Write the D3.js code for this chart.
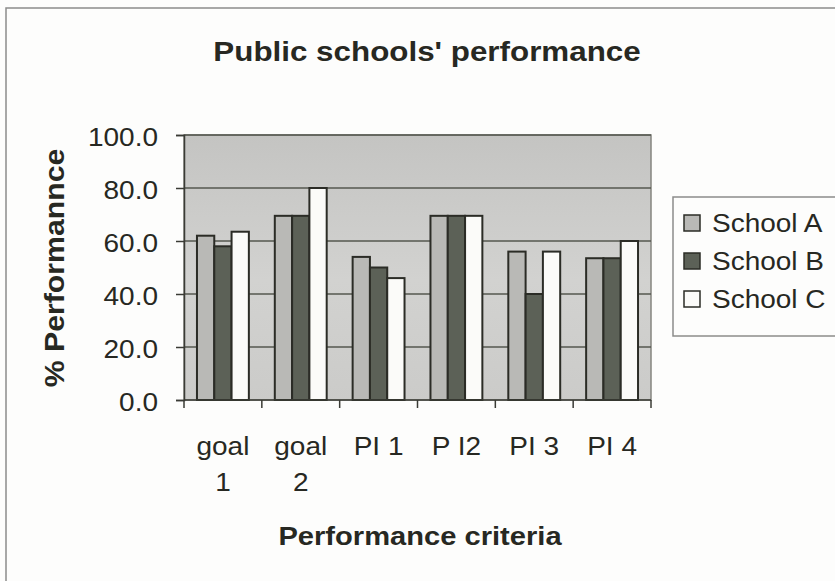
<!DOCTYPE html>
<html>
<head>
<meta charset="utf-8">
<script src="https://cdn.jsdelivr.net/npm/d3@7/dist/d3.min.js"></script>
<style>
  html, body { margin: 0; padding: 0; background: #fdfdfc; }
  svg { display: block; font-family: Arial, "Liberation Sans", Helvetica, sans-serif; }
</style>
</head>
<body>
<svg id="chart" width="835" height="581"></svg>
<script>
// Criteria along the x axis
const categories = ["goal 1", "goal 2", "PI 1", "P I2", "PI 3", "PI 4"];
// Series (one per school)
const seriesNames = ["School A", "School B", "School C"];
const schoolA = [62, 69.5, 54, 69.5, 56, 53.5];
const schoolB = [58, 69.5, 50, 69.5, 40, 53.5];
const schoolC = [63.5, 80, 46, 69.5, 56, 60];
// Value axis ticks
const yTicks = [0, 20, 40, 60, 80, 100];

const seriesValues = [schoolA, schoolB, schoolC];
const seriesFill = ["#b9b9b6", "#5c6157", "#fbfbf9"];
const ink = "#272822";
const stretch = 1.12; // fonts are drawn slightly wide

const svg = d3.select("#chart");

// Chart frame
svg.append("rect")
  .attr("x", 6).attr("y", 8).attr("width", 900).attr("height", 700)
  .attr("fill", "#fdfdfc").attr("stroke", "#8c8c8a").attr("stroke-width", 1.5);

const plot = { left: 184, right: 651, top: 135, bottom: 400 };

const x = d3.scaleBand()
  .domain(categories)
  .range([plot.left, plot.right])
  .paddingInner(1 / 3)
  .paddingOuter(1 / 6);

const xs = d3.scaleBand()
  .domain(seriesNames)
  .range([0, x.bandwidth()]);

const y = d3.scaleLinear()
  .domain([0, 100])
  .range([plot.bottom, plot.top]);

// Plot background
const defs = svg.append("defs");
const grad = defs.append("linearGradient")
  .attr("id", "plotBg").attr("x1", 0).attr("x2", 0).attr("y1", 0).attr("y2", 1);
grad.append("stop").attr("offset", "0%").attr("stop-color", "#c4c4c2");
grad.append("stop").attr("offset", "55%").attr("stop-color", "#d2d2d0");
grad.append("stop").attr("offset", "100%").attr("stop-color", "#cbcbc9");

svg.append("rect")
  .attr("x", plot.left).attr("y", plot.top)
  .attr("width", plot.right - plot.left).attr("height", plot.bottom - plot.top)
  .attr("fill", "url(#plotBg)")
  .attr("stroke", "#85857f").attr("stroke-width", 1.5);

// Horizontal gridlines
svg.append("g")
  .selectAll("line")
  .data(yTicks.filter(d => d > 0))
  .join("line")
  .attr("x1", plot.left).attr("x2", plot.right)
  .attr("y1", d => y(d)).attr("y2", d => y(d))
  .attr("stroke", "#54574f").attr("stroke-width", 1.5);

// Bars
const groups = svg.append("g")
  .selectAll("g")
  .data(categories)
  .join("g")
  .attr("transform", d => `translate(${x(d)},0)`);

groups.selectAll("rect")
  .data((c, i) => seriesNames.map((s, k) => ({ s, k, v: seriesValues[k][i] })))
  .join("rect")
  .attr("x", d => xs(d.s))
  .attr("width", xs.bandwidth())
  .attr("y", d => y(d.v))
  .attr("height", d => y(0) - y(d.v))
  .attr("fill", d => seriesFill[d.k])
  .attr("stroke", "#2b2c26").attr("stroke-width", 2);

// Y axis
const yAxis = svg.append("g")
  .attr("transform", `translate(${plot.left},0)`)
  .call(d3.axisLeft(y).tickValues(yTicks).tickSize(8).tickPadding(18).tickFormat(d3.format(".1f")));
yAxis.select(".domain").attr("stroke", "#3a3b35").attr("stroke-width", 1.5);
yAxis.selectAll(".tick line").attr("stroke", "#3a3b35").attr("stroke-width", 1.5);
yAxis.selectAll(".tick text")
  .attr("fill", ink)
  .style("font-size", "25px")
  .each(function () {
    const t = d3.select(this);
    const tx = +t.attr("x");
    t.attr("x", 0).attr("dy", "0.4em")
      .attr("transform", `translate(${tx},0) scale(${stretch},1)`);
  });

// X axis line with ticks at category boundaries
const xAxis = svg.append("g");
xAxis.append("line")
  .attr("x1", plot.left).attr("x2", plot.right)
  .attr("y1", plot.bottom).attr("y2", plot.bottom)
  .attr("stroke", "#3a3b35").attr("stroke-width", 1.5);
const bounds = categories.map(c => x(c) - x.step() * x.paddingInner() / 2).concat([plot.right]);
xAxis.selectAll("line.tick")
  .data(bounds)
  .join("line")
  .attr("class", "tick")
  .attr("x1", d => d).attr("x2", d => d)
  .attr("y1", plot.bottom).attr("y2", plot.bottom + 8)
  .attr("stroke", "#3a3b35").attr("stroke-width", 1.5);

// Category labels, wrapped when too wide for the band
const labelFont = 25;
const labels = xAxis.selectAll("g.lbl")
  .data(categories)
  .join("g")
  .attr("class", "lbl")
  .attr("transform", d => `translate(${x(d) + x.bandwidth() / 2},455) scale(${stretch},1)`);
labels.each(function (d) {
  const g = d3.select(this);
  const t = g.append("text")
    .attr("text-anchor", "middle")
    .attr("fill", ink)
    .style("font-size", labelFont + "px")
    .text(d);
  const w = t.node().getComputedTextLength() * stretch;
  if (w > x.step() * 0.85 && d.indexOf(" ") > 0) {
    const parts = d.split(" ");
    t.text(null);
    parts.forEach((p, i) => {
      t.append("tspan").attr("x", 0).attr("y", i * 36).text(p);
    });
  }
});

// Title
svg.append("text")
  .attr("transform", `translate(427,61) scale(${stretch},1)`)
  .attr("text-anchor", "middle")
  .attr("fill", ink)
  .style("font-size", "28px").style("font-weight", "bold")
  .text("Public schools' performance");

// Axis titles
svg.append("text")
  .attr("transform", `translate(64,268) rotate(-90) scale(1.08,1)`)
  .attr("text-anchor", "middle")
  .attr("fill", ink)
  .style("font-size", "28px").style("font-weight", "bold")
  .text("% Performannce");

svg.append("text")
  .attr("transform", `translate(420,545) scale(${stretch},1)`)
  .attr("text-anchor", "middle")
  .attr("fill", ink)
  .style("font-size", "26px").style("font-weight", "bold")
  .text("Performance criteria");

// Legend
const legend = svg.append("g");
legend.append("rect")
  .attr("x", 673).attr("y", 197).attr("width", 200).attr("height", 139)
  .attr("fill", "#fdfdfc").attr("stroke", "#8c8c8a").attr("stroke-width", 1.5);
const ly = d3.scalePoint().domain(seriesNames).range([223, 299]);
const items = legend.selectAll("g.item")
  .data(seriesNames)
  .join("g")
  .attr("class", "item")
  .attr("transform", d => `translate(0,${ly(d)})`);
items.append("rect")
  .attr("x", 684).attr("y", -8).attr("width", 16).attr("height", 16)
  .attr("fill", (d, i) => seriesFill[i])
  .attr("stroke", "#2b2c26").attr("stroke-width", 1.5);
items.append("text")
  .attr("transform", `translate(712,9) scale(${stretch},1)`)
  .attr("fill", ink)
  .style("font-size", "25px")
  .text(d => d);
</script>
</body>
</html>
